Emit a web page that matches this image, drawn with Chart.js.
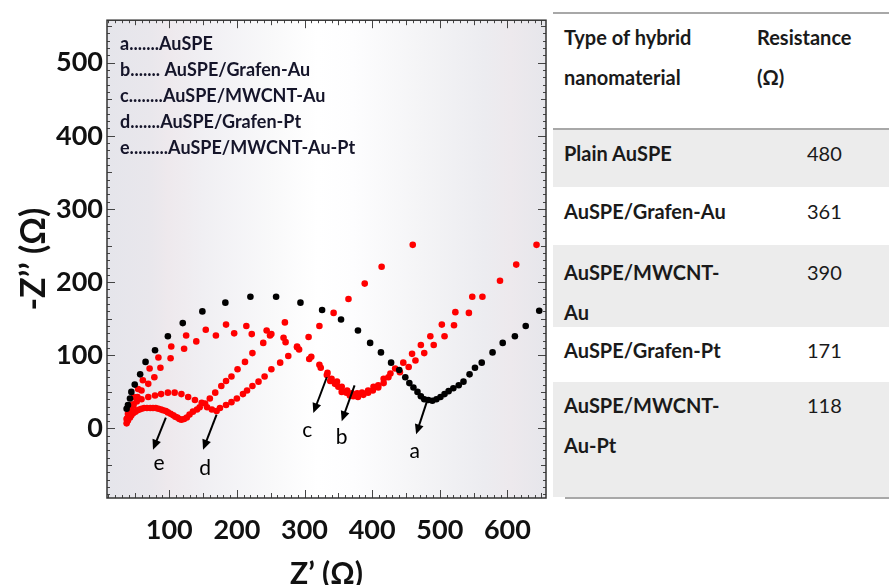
<!DOCTYPE html>
<html>
<head>
<meta charset="utf-8">
<script src="https://cdn.jsdelivr.net/npm/chart.js@4.4.1/dist/chart.umd.min.js"></script>
<style>
body { margin: 0; background: #fff; font-family: Lato, "Open Sans", sans-serif; }
#wrap { position: relative; width: 889px; height: 585px; overflow: hidden; }
#plot { position: absolute; left: 0; top: 0; }
#table { position: absolute; left: 553px; top: 0; width: 336px; height: 585px; color: #1a1a1a; font-size: 20px; }
.rule { position: absolute; left: 0; width: 336px; height: 2px; background: #a8a8a8; }
.row { position: absolute; left: 0; width: 336px; line-height: 40px; }
.shade { background: #ececec; }
.c1 { position: absolute; left: 11px; font-weight: bold; white-space: nowrap; }
.c2 { position: absolute; left: 254px; }
.h2 { position: absolute; left: 204px; font-weight: bold; }
</style>
</head>
<body>
<div id="wrap">
  <canvas id="plot" width="553" height="585"></canvas>
  <div id="table"></div>
</div>
<script>
// impedance data (Z' , -Z'')
var aX = [37,39,42,44,49,57,65,79,98,120,149,183,220,258,294,326,354,379,397,413,428,440,449,455,461,467,472,477,483,489,495,501,507,513,520,528,535,544,552,562,578,593,611,627,647]
var aY = [27,32,41,50,60,74,91,107,126,144,160,172,180,180,172,162,149,134,117,104,90,80,70,62,56,50,44,40,39,38,40,43,47,51,55,59,64,74,83,90,104,117,126,140,161]

var bX = [38,42,47,53,59,69,78,87,102,122,140,169,196,222,249,272,292,307,324,333,338,345,350,355,362,367,372,379,387,394,401,409,417,424,441,454,464,477,491,507,521,543,563,589,613,643]
var bY = [14,24,33,43,52,61,70,83,96,109,119,127,130,129,127,118,108,95,83,73,65,61,57,50,49,45,44,43,46,49,52,56,62,70,77,84,93,103,114,126,141,158,180,202,224,251]

var cX = [39,43,48,54,61,71,84,103,125,154,184,214,244,269,289,310,322,334,340,348,355,363,370,378,385,394,402,409,417,427,434,446,459,472,486,503,523,548]
var cY = [20,32,43,54,66,82,97,112,127,135,142,140,134,124,112,98,87,76,68,64,57,52,48,48,49,52,57,59,68,75,82,90,102,114,126,142,159,180]

var dX = [37,40,43,47,52,59,69,79,88,98,108,118,128,138,148,156,163,170,175,184,192,200,209,215,223,232,241,251,264,276,289,306,322,343,365,389,414,460]
var dY = [13,20,26,31,37,40,43,45,47,49,49,47,43,39,35,29,26,24,28,32,36,41,47,52,58,64,71,81,90,99,111,125,140,158,177,198,221,251]

var eX = [37,39,42,44,47,50,53,56,59,63,67,72,76,80,84,88,91,95,98,102,106,109,112,115,118,122,126,130,135,141,145,153,160,168,177,184,192,201,212,223,239,251,271]
var eY = [7,11,15,18,21,23,25,26,27,28,28,28,28,28,27,26,25,24,22,20,18,16,15,13,12,13,15,19,23,26,29,34,41,49,58,65,71,81,91,103,117,129,145]

var seriesNames = ['a', 'b', 'c', 'd', 'e']
var legendLines = ['a.......AuSPE', 'b....... AuSPE/Grafen-Au', 'c........AuSPE/MWCNT-Au', 'd.......AuSPE/Grafen-Pt', 'e.........AuSPE/MWCNT-Au-Pt']
var xTicks = [100, 200, 300, 400, 500, 600]
var yTicks = [0, 100, 200, 300, 400, 500]

// arrow labels: [letter, from x, from y, to x, to y, text x, text y] in data units
var arrows = [
  ['e', 95, 15, 76, -29, 85, -48],
  ['d', 170, 19, 150, -29, 153, -55],
  ['c', 333, 70, 313, 21, 304, -2],
  ['b', 374, 59, 355, 10, 355, -12],
  ['a', 481, 37, 465, -8, 463, -31]
]

var tableHeader = [['Type of hybrid', 'nanomaterial'], ['Resistance', '(Ω)']]
var tableMaterial = [['Plain AuSPE'], ['AuSPE/Grafen-Au'], ['AuSPE/MWCNT-', 'Au'], ['AuSPE/Grafen-Pt'], ['AuSPE/MWCNT-', 'Au-Pt']]
var tableResistance = [480, 361, 390, 171, 118]

function toPoints(xs, ys) {
  return xs.map(function (x, i) { return {x: x, y: ys[i]} })
}

var allX = [aX, bX, cX, dX, eX]
var allY = [aY, bY, cY, dY, eY]
var colors = ['#000000', '#ff0000', '#ff0000', '#ff0000', '#ff0000']

var datasets = seriesNames.map(function (name, i) {
  return {
    label: name,
    data: toPoints(allX[i], allY[i]),
    backgroundColor: colors[i],
    borderWidth: 0,
    pointRadius: 3.3,
    showLine: false
  }
})

var decor = {
  id: 'decor',
  beforeDatasetsDraw: function (chart) {
    var ctx = chart.ctx, ca = chart.chartArea
    var g = ctx.createLinearGradient(ca.left, 0, ca.right, 0)
    g.addColorStop(0, '#e5e5eb')
    g.addColorStop(0.1, '#e9e7ec')
    g.addColorStop(0.14, '#eee9ed')
    g.addColorStop(0.22, '#f0eff3')
    g.addColorStop(0.38, '#f9f9fa')
    g.addColorStop(0.48, '#ffffff')
    g.addColorStop(0.56, '#fdfdfe')
    g.addColorStop(0.72, '#f4f4f6')
    g.addColorStop(0.86, '#ececf0')
    g.addColorStop(0.92, '#ede9ed')
    g.addColorStop(1, '#e6e6eb')
    ctx.save()
    ctx.fillStyle = g
    ctx.fillRect(ca.left, ca.top, ca.right - ca.left, ca.bottom - ca.top)
    ctx.restore()
  },
  afterDraw: function (chart) {
    var ctx = chart.ctx, ca = chart.chartArea
    var xs = chart.scales.x, ys = chart.scales.y
    ctx.save()
    // inner tick marks on all four sides
    ctx.strokeStyle = '#444'
    ctx.lineWidth = 1
    ctx.beginPath()
    for (var v = 10; v <= 650; v += 10) {
      var px = Math.round(xs.getPixelForValue(v)) + 0.5
      var len = v % 100 == 0 ? 8 : (v % 50 == 0 ? 5 : 3)
      ctx.moveTo(px, ca.bottom); ctx.lineTo(px, ca.bottom - len)
      ctx.moveTo(px, ca.top); ctx.lineTo(px, ca.top + len)
    }
    for (var w = -90; w <= 550; w += 10) {
      var py = Math.round(ys.getPixelForValue(w)) + 0.5
      var len2 = w % 100 == 0 ? 8 : (w % 50 == 0 ? 5 : 3)
      ctx.moveTo(ca.left, py); ctx.lineTo(ca.left + len2, py)
      ctx.moveTo(ca.right, py); ctx.lineTo(ca.right - len2, py)
    }
    ctx.stroke()
    // frame
    ctx.strokeStyle = '#333'
    ctx.lineWidth = 1.5
    ctx.strokeRect(ca.left, ca.top, ca.right - ca.left, ca.bottom - ca.top)

    // legend text inside the frame
    ctx.fillStyle = '#15152a'
    ctx.font = 'bold 18px Lato'
    ctx.textBaseline = 'middle'
    ctx.textAlign = 'left'
    legendLines.forEach(function (t, i) {
      ctx.fillText(t, ca.left + 13, ca.top + 24 + i * 26)
    })

    // arrows with letters
    ctx.strokeStyle = '#000'
    ctx.fillStyle = '#000'
    ctx.lineWidth = 2
    ctx.font = '21px Lato'
    ctx.textAlign = 'center'
    arrows.forEach(function (a) {
      var x1 = xs.getPixelForValue(a[1]), y1 = ys.getPixelForValue(a[2])
      var x2 = xs.getPixelForValue(a[3]), y2 = ys.getPixelForValue(a[4])
      var ang = Math.atan2(y2 - y1, x2 - x1)
      ctx.beginPath()
      ctx.moveTo(x1, y1)
      ctx.lineTo(x2 - 6 * Math.cos(ang), y2 - 6 * Math.sin(ang))
      ctx.stroke()
      ctx.beginPath()
      ctx.moveTo(x2, y2)
      ctx.lineTo(x2 - 10 * Math.cos(ang) + 4.5 * Math.sin(ang), y2 - 10 * Math.sin(ang) - 4.5 * Math.cos(ang))
      ctx.lineTo(x2 - 10 * Math.cos(ang) - 4.5 * Math.sin(ang), y2 - 10 * Math.sin(ang) + 4.5 * Math.cos(ang))
      ctx.closePath()
      ctx.fill()
      ctx.fillText(a[0], xs.getPixelForValue(a[5]), ys.getPixelForValue(a[6]))
    })
    ctx.restore()
  }
}

var myChart = new Chart(document.getElementById('plot'), {
  type: 'scatter',
  data: {datasets: datasets},
  options: {
    responsive: false,
    animation: false,
    layout: {padding: {left: 0, right: 7, top: 19, bottom: 0}},
    plugins: {legend: {display: false}, tooltip: {enabled: false}},
    scales: {
      x: {
        type: 'linear', min: 8, max: 657,
        afterBuildTicks: function (s) { s.ticks = xTicks.map(function (v) { return {value: v} }) },
        afterFit: function (s) { s.height = 87 },
        grid: {display: false, drawTicks: false},
        border: {display: false},
        ticks: {padding: 16, color: '#111', autoSkip: false, maxRotation: 0, font: {family: 'Lato', size: 27, weight: 'bold'}},
        title: {display: true, text: 'Z’ (Ω)', color: '#111', padding: {top: 0, bottom: -4}, font: {family: 'Lato', size: 30, weight: 'bold', lineHeight: 1}}
      },
      y: {
        type: 'linear', min: -95, max: 558,
        afterBuildTicks: function (s) { s.ticks = yTicks.map(function (v) { return {value: v} }) },
        afterFit: function (s) { s.width = 107 },
        grid: {display: false, drawTicks: false},
        border: {display: false},
        ticks: {padding: 4, color: '#111', autoSkip: false, font: {family: 'Lato', size: 27, weight: 'bold'}},
        title: {display: true, text: '-Z’’ (Ω)', color: '#111', padding: {top: 14, bottom: 0}, font: {family: 'Lato', size: 34, weight: 'bold', lineHeight: 1.2}}
      }
    }
  },
  plugins: [decor]
})

// table on the right
function buildTable() {
  var el = document.getElementById('table')
  var rowTop = [130, 187, 245, 327, 382]
  var rowBottom = [187, 245, 327, 382, 497]
  var padTop = [3, 4, 7, 3, 3]
  var html = '<div class="rule" style="top:12px"></div>'
  html += '<div class="row" style="top:17px;height:110px">' +
    '<div class="c1">' + tableHeader[0].join('<br>') + '</div>' +
    '<div class="h2">' + tableHeader[1].join('<br>') + '</div></div>'
  html += '<div class="rule" style="top:128px"></div>'
  for (var i = 0; i < tableMaterial.length; i++) {
    html += '<div class="row' + (i % 2 == 0 ? ' shade' : '') + '" style="top:' + rowTop[i] + 'px;height:' + (rowBottom[i] - rowTop[i] - padTop[i]) + 'px;padding-top:' + padTop[i] + 'px">' +
      '<div class="c1">' + tableMaterial[i].join('<br>') + '</div>' +
      '<div class="c2">' + tableResistance[i] + '</div></div>'
  }
  html += '<div class="rule" style="top:497px;left:12px;width:324px"></div>'
  el.innerHTML = html
}
buildTable()
</script>
</body>
</html>
